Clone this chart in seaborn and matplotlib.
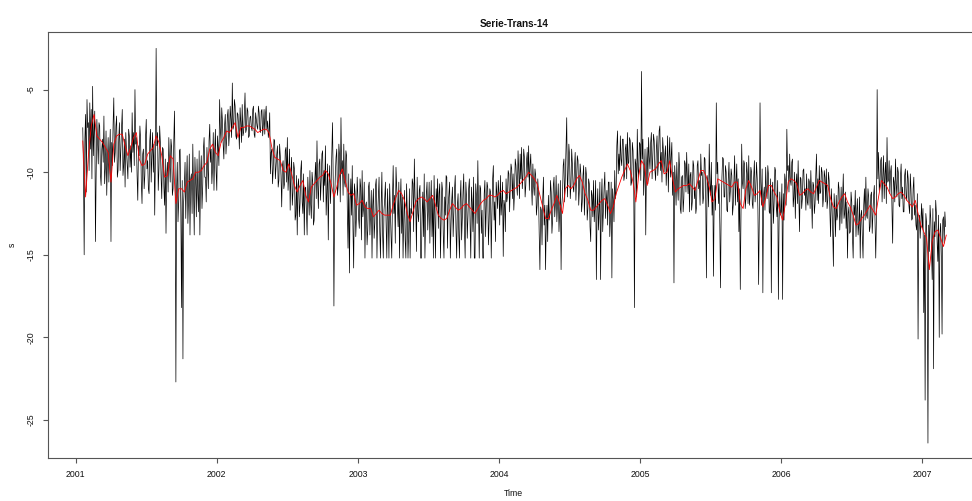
import numpy as np
import pandas as pd
import seaborn as sns
import matplotlib
matplotlib.use("Agg")
import matplotlib.pyplot as plt

# Raw series, one value every 0.01 year, grouped by calendar year
s_2001 = [
    -7.3, -15.0, -6.5, -5.6, -7.0, -5.8, -6.2, -4.8, -7.5, -14.2, -6.8,
    -9.5, -7.2, -10.8, -8.0, -6.6, -9.8, -11.4, -7.9, -8.8,
    -14.2, -9.6, -5.5,
    -8.8, -6.6, -9.9, -7.0, -8.5, -6.2, -9.6,
    -10.9, -8.7, -10.4, -7.8,
    -8.4, -6.4, -7.6, -5.0,
    -7.9, -11.7, -9.0, -8.0, -11.9, -8.6, -10.2, -6.8, -9.3, -11.3,
    -7.4, -8.9, -10.0, -12.6,
    -2.5,
    -7.6, -9.8, -8.2, -11.6, -8.6, -12.0, -13.7,
    -9.4, -7.9, -10.6, -8.5,
    -11.0, -6.3, -22.7, -9.4, -11.8, -8.6, -18.2, -21.3,
    -10.8, -12.8, -9.0, -11.6, -13.8, -10.1,
    -8.3, -13.8, -10.6, -9.2, -12.4, -13.8,
    -9.0, -10.9, -7.9, -10.3, -8.5, -11.0,
    -7.1, -8.6, -9.7, -11.1, -7.4,
]
s_2002 = [
    -11.1, -8.5, -5.6, -8.2, -6.9, -9.2, -6.5, -8.0, -6.2, -7.6,
    -6.8, -4.6, -7.2, -6.0, -8.0, -6.5, -8.6, -7.0, -5.9, -7.6,
    -5.2, -7.4, -6.3, -7.8, -6.6, -7.5, -6.0, -7.9, -6.8, -7.4,
    -6.4, -7.6, -6.2, -7.1, -7.7, -6.0, -6.9, -7.5, -10.1, -8.6,
    -9.8, -8.1, -9.6, -8.4, -10.5, -9.0, -12.1, -9.3, -10.7, -8.5,
    -7.9, -10.2, -12.3, -9.1, -11.2, -9.8, -12.6, -13.8, -10.4, -11.9,
    -9.3, -12.5, -13.8, -10.9, -13.8, -11.5, -9.9, -12.8, -10.6, -12.9,
    -9.4, -8.1, -12.2, -9.2, -10.5, -8.7, -9.9, -8.4, -11.2, -14.1,
    -9.6, -10.8, -7.0, -18.1, -10.2, -8.6, -10.9, -9.0, -6.7, -9.3,
    -8.3, -10.9, -9.0, -14.6, -16.1, -10.4, -9.6, -15.8, -11.2, -12.6,
]
s_2003 = [
    -11.5, -13.4, -10.9, -9.9, -12.2, -15.2, -11.8, -13.5, -10.6, -12.4,
    -15.2, -11.0, -13.1, -10.4, -12.7, -10.3, -15.2, -10.0, -15.2, -11.6,
    -13.2, -11.0, -15.2, -12.3, -15.2, -9.6, -11.4, -9.7, -12.0, -10.6,
    -11.9, -13.7, -15.2, -11.1, -15.2, -12.4, -13.6, -15.2, -12.5, -10.7,
    -9.2, -12.0, -10.3, -13.0, -10.8, -15.2, -11.2, -10.1, -12.7, -10.6,
    -12.2, -14.3, -10.5, -11.6, -10.2, -15.2, -12.1, -13.4, -10.7, -12.8,
    -11.1, -15.2, -12.6, -10.3, -12.0, -10.6, -13.2, -10.9, -12.4, -10.2,
    -15.2, -11.3, -15.2, -10.5, -12.8, -10.1, -15.2, -11.5, -12.7, -10.4,
    -15.2, -11.8, -10.3, -15.2, -11.4, -9.3, -15.2, -11.0, -12.3, -15.2,
    -10.5, -12.1, -10.9, -13.0, -11.2, -12.5, -9.6, -11.8, -10.6, -12.2,
]
s_2004 = [
    -11.3, -10.2, -11.8, -15.1, -12.0, -10.4, -11.5, -10.1, -11.0, -9.8,
    -10.1, -11.2, -9.6, -11.4, -9.9, -8.9, -8.5, -10.2, -9.1, -10.8,
    -8.8, -8.4, -9.6, -10.7, -9.5, -11.4, -10.2, -12.0, -11.3, -15.9,
    -12.3, -11.6, -13.2, -15.9, -12.0, -11.4, -12.6, -11.2, -12.9, -10.3,
    -11.9, -13.0, -10.7, -12.4, -15.9, -11.4, -9.2, -10.3, -6.7, -10.1,
    -9.0, -10.8, -9.5, -11.2, -8.8, -10.4, -9.3, -11.0, -10.1, -11.8,
    -9.6, -11.3, -10.2, -12.2, -10.7, -14.2, -11.4, -10.5, -12.1, -16.5,
    -11.0, -12.4, -16.5, -10.4, -12.3, -10.0, -11.7, -13.2, -10.6, -12.8,
    -16.4, -11.6, -9.9, -11.2, -7.5, -8.9, -7.8, -9.6, -8.0, -10.2,
    -8.3, -7.6, -9.4, -8.1, -10.6, -8.7, -18.2, -9.5, -7.4, -10.3,
]
s_2005 = [
    -8.3, -3.9, -8.0, -10.2, -13.8, -8.5, -7.9, -9.8, -7.6, -9.1,
    -8.1, -10.5, -7.8, -9.4, -7.2, -8.8, -7.9, -10.0, -8.4, -9.6,
    -11.2, -7.9, -9.1, -11.4, -16.7, -10.5, -9.4, -11.7, -9.8, -12.5,
    -10.2, -11.6, -9.5, -8.8, -11.3, -12.4, -10.0, -11.8, -9.6, -10.9,
    -12.1, -9.3, -10.5, -8.9, -10.0, -11.5, -9.2, -16.4, -10.6, -8.3,
    -11.4, -12.6, -16.3, -10.8, -5.8, -9.4, -10.7, -17.0, -10.3, -9.2,
    -11.5, -10.0, -12.4, -9.4, -11.1, -10.2, -12.0, -9.0, -10.6, -11.8,
    -13.6, -17.1, -8.3, -11.0, -9.5, -11.6, -10.1, -9.0, -11.3, -10.0,
    -12.2, -9.3, -11.0, -10.4, -16.8, -5.8, -12.0, -17.3, -10.9, -9.7,
    -11.6, -10.2, -12.5, -17.3, -10.6, -11.8, -9.9, -12.7, -17.7, -11.2,
]
s_2006 = [
    -12.4, -17.7, -12.9, -10.5, -7.4, -9.6, -8.9, -10.8, -9.2, -11.5,
    -12.8, -10.1, -9.3, -13.6, -10.4, -11.6, -9.8, -11.0, -10.1, -12.0,
    -10.6, -9.9, -13.4, -10.8, -11.9, -8.9, -10.4, -9.6, -11.2, -10.0,
    -11.5, -10.3, -9.8, -11.7, -10.5, -13.9, -12.0, -15.7, -12.2, -11.4,
    -12.6, -11.0, -12.3, -13.1, -10.1, -12.5, -13.4, -15.2, -12.1, -13.6,
    -11.8, -15.2, -12.6, -13.9, -11.6, -13.2, -15.2, -12.3, -15.2, -11.0,
    -10.3, -12.8, -11.5, -13.3, -11.2, -12.6, -10.8, -15.2, -5.0, -8.8,
    -10.7, -9.1, -10.2, -11.6, -9.4, -7.9, -10.5, -11.3, -9.6, -14.3,
    -10.6, -9.2, -11.5, -10.0, -12.1, -9.5, -10.9, -12.4, -9.8, -11.7,
    -10.4, -12.5, -11.1, -12.8, -10.3, -12.0, -13.5, -20.1, -12.6, -13.0,
]
s_2007 = [
    -13.4, -18.5, -23.8, -13.0, -26.4, -14.8, -12.8, -16.5, -21.9,
    -13.9, -12.5, -15.4, -20.0, -13.1, -19.8, -12.7, -12.4,
]

# Values in between, at the half steps (+0.005 year)
h_2001 = [
    -9.8, -8.0, -11.2, -7.3, -9.9, -8.6, -10.4, -9.0, -6.3, -10.1, -8.2,
    -7.0, -10.1, -8.6, -9.4, -10.7, -7.5, -9.2, -10.6, -7.4,
    -8.2, -7.1, -9.4,
    -7.2, -10.3, -8.0, -9.9, -7.3, -10.2, -8.0,
    -7.6, -9.6, -7.4, -9.7,
    -10.0, -8.8, -9.6, -8.3,
    -10.2, -8.4, -7.2, -10.6, -8.9, -11.0, -7.9, -9.8, -11.0, -8.1,
    -10.6, -7.6, -8.3, -9.1,
    -8.4,
    -11.1, -7.2, -10.3, -8.5, -10.9, -9.2, -10.1,
    -11.2, -9.5, -8.0, -11.4,
    -8.2, -10.4, -11.0, -13.0, -8.7, -12.2, -10.5, -11.8,
    -9.4, -10.6, -13.1, -8.9, -10.4, -12.5,
    -11.1, -9.1, -12.7, -11.3, -8.7, -10.1,
    -12.2, -8.6, -10.3, -11.8, -9.7, -8.1,
    -9.4, -10.7, -7.6, -8.8, -9.9,
]
h_2002 = [
    -7.8, -9.6, -7.4, -6.1, -8.3, -7.2, -8.9, -6.6, -8.4, -6.0,
    -7.9, -7.4, -5.6, -7.8, -6.4, -7.3, -6.1, -8.2, -7.8, -6.5,
    -7.6, -6.1, -7.9, -6.7, -7.3, -6.2, -7.7, -6.4, -7.2, -6.0,
    -7.4, -6.3, -7.8, -6.2, -6.5, -7.4, -7.9, -6.4, -8.8, -10.7,
    -8.0, -10.4, -8.9, -10.9, -8.3, -10.2, -9.6, -11.0, -8.7, -10.6,
    -11.1, -8.6, -10.0, -12.0, -9.4, -12.9, -10.2, -10.8, -12.7, -9.9,
    -11.8, -10.1, -11.0, -12.4, -10.3, -12.6, -11.9, -10.0, -13.2, -10.4,
    -11.6, -10.8, -9.5, -11.7, -8.9, -11.8, -10.8, -12.6, -9.5, -10.7,
    -11.9, -9.0, -10.4, -11.7, -9.1, -11.4, -8.3, -11.8, -10.1, -11.4,
    -10.6, -8.7, -12.3, -10.1, -11.7, -12.6, -13.4, -10.7, -13.9, -10.3,
]
h_2003 = [
    -12.8, -10.4, -14.1, -12.7, -10.6, -12.0, -14.4, -10.9, -13.8, -11.1,
    -12.0, -14.0, -10.8, -15.2, -11.4, -13.6, -11.9, -13.7, -12.3, -10.6,
    -15.2, -12.6, -10.7, -13.9, -11.6, -12.5, -14.3, -10.9, -13.3, -15.2,
    -10.4, -11.5, -12.8, -14.1, -10.7, -15.2, -11.0, -12.2, -10.4, -13.6,
    -11.5, -14.8, -12.5, -11.1, -15.2, -12.6, -13.9, -15.2, -11.3, -13.5,
    -10.6, -12.0, -13.9, -15.2, -12.9, -11.0, -10.4, -11.3, -15.2, -10.6,
    -13.8, -11.5, -10.2, -14.6, -11.3, -15.2, -11.7, -13.9, -11.0, -13.4,
    -12.0, -13.8, -11.6, -14.1, -11.2, -13.4, -10.6, -14.0, -11.0, -13.1,
    -10.9, -13.6, -15.2, -10.7, -13.1, -12.4, -10.8, -13.7, -15.2, -11.3,
    -13.9, -10.6, -14.4, -11.0, -15.2, -10.4, -12.9, -14.2, -11.3, -10.5,
]
h_2004 = [
    -13.2, -12.6, -10.6, -11.7, -13.6, -11.8, -9.9, -12.4, -9.5, -11.6,
    -12.3, -9.2, -10.8, -8.7, -11.6, -10.4, -11.0, -8.6, -11.5, -9.3,
    -10.3, -11.1, -8.9, -12.0, -10.8, -9.8, -12.6, -10.4, -13.8, -12.1,
    -14.4, -10.3, -12.0, -13.0, -14.2, -12.9, -10.5, -13.7, -10.8, -12.7,
    -10.2, -11.8, -13.6, -10.5, -12.0, -9.6, -11.8, -8.4, -11.5, -8.3,
    -11.6, -8.6, -10.9, -9.7, -11.7, -9.0, -12.0, -9.5, -12.4, -10.2,
    -12.6, -9.7, -12.9, -10.4, -13.3, -11.1, -12.7, -13.0, -10.5, -12.3,
    -13.5, -10.6, -11.8, -13.6, -10.9, -12.8, -11.1, -10.6, -13.9, -10.6,
    -11.0, -13.0, -11.6, -8.4, -10.1, -9.9, -9.2, -8.0, -10.5, -8.6,
    -10.4, -9.5, -7.9, -10.8, -8.2, -10.9, -9.2, -11.5, -9.8, -8.2,
]
h_2005 = [
    -10.5, -9.2, -11.4, -8.6, -9.8, -10.7, -9.1, -8.2, -10.4, -7.7,
    -9.9, -8.6, -10.2, -7.5, -9.9, -10.6, -8.7, -9.0, -10.8, -7.8,
    -9.2, -10.3, -8.2, -10.0, -9.6, -12.0, -10.8, -8.8, -12.2, -10.3,
    -12.4, -9.3, -11.2, -10.4, -9.5, -10.2, -12.3, -9.3, -11.6, -12.5,
    -9.6, -11.0, -12.0, -10.2, -11.9, -9.1, -11.6, -10.2, -12.1, -10.7,
    -9.4, -10.8, -11.6, -12.3, -10.1, -11.9, -13.2, -12.0, -9.1, -11.5,
    -9.6, -12.3, -10.4, -11.8, -9.8, -12.6, -10.4, -12.0, -9.5, -10.4,
    -11.0, -12.4, -10.6, -9.3, -12.2, -9.4, -11.9, -12.0, -9.7, -11.9,
    -10.3, -11.8, -9.4, -12.3, -12.5, -10.6, -9.8, -11.4, -12.3, -11.1,
    -9.6, -12.4, -10.4, -11.2, -13.1, -9.7, -12.1, -10.5, -13.0, -12.6,
]
h_2006 = [
    -10.7, -11.3, -10.1, -12.0, -9.9, -11.2, -10.5, -9.4, -12.1, -10.0,
    -10.7, -11.9, -11.4, -10.3, -12.2, -9.9, -11.4, -12.3, -11.8, -10.4,
    -12.2, -11.5, -10.6, -12.5, -10.2, -11.7, -11.9, -11.3, -9.7, -12.1,
    -9.9, -11.8, -12.2, -10.0, -12.4, -11.0, -13.6, -11.3, -13.9, -12.9,
    -10.6, -13.5, -10.9, -11.7, -12.8, -11.2, -11.8, -12.5, -13.7, -11.2,
    -13.9, -12.0, -11.1, -12.4, -13.8, -11.5, -12.6, -13.9, -12.0, -12.9,
    -12.6, -11.0, -13.6, -11.4, -13.7, -11.4, -12.9, -12.7, -10.4, -11.1,
    -9.3, -11.8, -9.0, -10.1, -11.9, -10.6, -9.3, -10.0, -12.2, -10.3,
    -11.8, -10.7, -9.7, -12.0, -10.3, -11.6, -12.4, -10.2, -11.4, -9.9,
    -12.0, -10.1, -12.9, -11.0, -12.6, -13.2, -11.3, -12.9, -14.0, -11.9,
]
h_2007 = [
    -12.2, -13.8, -12.5, -15.6, -13.2, -12.0, -14.6, -12.2, -13.0,
    -11.7, -14.2, -12.6, -13.7, -15.1, -12.9, -14.3, -13.3,
]

# Smoothed series, one value every 0.02 year
r_2001 = [
    -8.1, -11.5, -9.0, -7.2, -6.5, -7.8, -8.0, -8.2, -8.5, -8.8,
    -10.6, -8.3, -7.8, -7.7, -7.7, -8.4, -9.0, -8.5, -7.9, -7.6,
    -9.2, -9.6, -9.5, -8.9, -8.7, -8.5, -7.8, -8.2, -9.0, -10.3,
    -10.2, -9.0, -9.2, -11.9, -11.0, -11.0, -11.2, -10.6, -10.5, -10.4,
    -10.0, -10.0, -9.9, -9.6, -9.4, -8.6, -8.3, -8.8,
]
r_2002 = [
    -9.0, -8.2, -7.9, -7.5, -7.6, -7.3, -7.0, -7.9, -7.3, -7.3,
    -7.2, -7.2, -7.3, -7.4, -7.6, -7.5, -7.4, -7.4, -7.6, -8.5,
    -9.1, -9.2, -9.3, -9.9, -10.0, -9.5, -10.1, -10.8, -11.2, -10.8,
    -10.5, -11.4, -11.8, -10.9, -10.7, -10.5, -10.3, -10.2, -9.9, -10.1,
    -10.7, -11.5, -10.9, -10.2, -9.8, -10.5, -11.2, -11.4, -11.3, -12.0,
]
r_2003 = [
    -11.9, -11.7, -12.1, -12.2, -12.2, -12.7, -12.5, -12.3, -12.5, -12.6,
    -12.6, -12.6, -12.0, -11.5, -11.1, -11.3, -11.7, -12.5, -13.0, -12.4,
    -11.8, -11.6, -11.5, -11.6, -11.8, -11.6, -11.4, -12.0, -12.6, -12.8,
    -12.9, -12.8, -12.3, -11.9, -12.1, -12.3, -12.2, -12.0, -11.9, -12.1,
    -12.3, -12.5, -12.2, -11.9, -11.7, -11.6, -11.4, -11.4, -11.5, -11.4,
]
r_2004 = [
    -11.2, -11.1, -11.3, -11.2, -11.1, -11.0, -10.9, -10.7, -10.5, -10.3,
    -10.0, -10.2, -10.4, -10.7, -11.4, -12.1, -12.8, -12.8, -12.3, -11.9,
    -11.4, -11.9, -12.5, -11.0, -10.8, -11.0, -10.8, -10.4, -10.2, -10.6,
    -11.3, -11.7, -12.3, -12.3, -12.1, -11.9, -11.7, -11.6, -12.0, -12.5,
    -12.1, -11.3, -10.8, -10.3, -9.9, -9.5, -9.9, -10.6, -11.8, -10.2,
]
r_2005 = [
    -9.3, -9.6, -10.8, -10.0, -9.9, -9.8, -9.5, -9.3, -10.1, -10.0,
    -9.3, -10.4, -11.2, -11.0, -10.9, -10.8, -10.8, -10.7, -10.9, -11.1,
    -10.5, -9.9, -9.9, -10.3, -10.9, -11.8, -11.6, -10.4, -10.5, -10.6,
    -10.7, -10.8, -10.9, -10.6, -10.6, -11.9, -12.2, -11.0, -10.5, -10.9,
    -11.4, -11.3, -11.1, -12.1, -11.6, -10.8, -10.8, -11.2, -11.5, -12.4,
]
r_2006 = [
    -12.9, -11.9, -10.6, -10.4, -10.5, -10.7, -11.4, -11.3, -11.1, -11.0,
    -11.2, -11.3, -10.9, -10.5, -10.6, -10.7, -10.8, -11.6, -12.1, -12.2,
    -11.8, -11.5, -11.3, -11.8, -12.1, -12.6, -13.2, -13.1, -12.8, -12.6,
    -12.3, -12.0, -12.3, -12.6, -11.5, -10.5, -10.7, -10.9, -11.3, -11.6,
    -11.5, -11.3, -11.2, -11.4, -11.7, -11.9, -12.1, -11.7, -12.5, -13.2,
]
r_2007 = [-13.6, -14.0, -15.9, -14.2, -13.6, -13.5, -14.0, -14.5, -13.8]

year_ticks = [2001, 2002, 2003, 2004, 2005, 2006, 2007]
y_ticks = [-25, -20, -15, -10, -5]


def by_year(blocks, step):
    """Stack (year, first offset, values) blocks into a Time/s frame."""
    frames = []
    for year, first, vals in blocks:
        t = year + first + step * np.arange(len(vals))
        frames.append(pd.DataFrame({"Time": t, "s": vals}))
    return pd.concat(frames, ignore_index=True)


raw = pd.concat([
    by_year([(2001, 0.05, s_2001), (2002, 0.0, s_2002), (2003, 0.0, s_2003),
             (2004, 0.0, s_2004), (2005, 0.0, s_2005), (2006, 0.0, s_2006),
             (2007, 0.0, s_2007)], 0.01),
    by_year([(2001, 0.055, h_2001), (2002, 0.005, h_2002), (2003, 0.005, h_2003),
             (2004, 0.005, h_2004), (2005, 0.005, h_2005), (2006, 0.005, h_2006),
             (2007, 0.005, h_2007)], 0.01),
]).sort_values("Time", ignore_index=True)

smooth = by_year([
    (2001, 0.05, r_2001), (2002, 0.01, r_2002), (2003, 0.01, r_2003),
    (2004, 0.01, r_2004), (2005, 0.01, r_2005), (2006, 0.01, r_2006),
    (2007, 0.01, r_2007),
], 0.02)

sns.set_theme(style="white")
plt.rcParams["font.family"] = ["Liberation Sans", "DejaVu Sans"]
plt.rcParams["axes.unicode_minus"] = False

W, H = 972, 501
fig = plt.figure(figsize=(W / 100, H / 100), dpi=100)
left, right, top, bottom = 47.7, 980.0, 32.3, 458.3
ax = fig.add_axes([left / W, 1 - bottom / H, (right - left) / W, (bottom - top) / H])

sns.lineplot(data=raw, x="Time", y="s", ax=ax, color="black",
             linewidth=0.5, estimator=None, sort=False)
sns.lineplot(data=smooth, x="Time", y="s", ax=ax, color="red",
             linewidth=0.6, estimator=None, sort=False)

# axis ranges: 2001 at x=75.7px, 141.1 px per year
px_per_year = 141.1
ax.set_xlim(2001 - (75.7 - left) / px_per_year, 2001 + (right - 75.7) / px_per_year)
ax.set_ylim(-27.32, -1.53)

ax.set_xticks(year_ticks)
ax.set_xticklabels([str(y) for y in year_ticks])
ax.set_yticks(y_ticks)
ax.set_yticklabels([str(v) for v in y_ticks], rotation=90, va="center")

frame_col = "#555555"
for sp in ax.spines.values():
    sp.set_visible(True)
    sp.set_color(frame_col)
    sp.set_linewidth(0.8)
ax.tick_params(axis="both", which="major", bottom=True, left=True,
               direction="out", length=3.6, width=0.8, color=frame_col,
               labelsize=6.3, labelcolor="#111111", pad=5)

ax.set_xlabel("Time", fontsize=6.3, color="#111111")
ax.xaxis.set_label_coords(0.5, (bottom - 493) / (bottom - top))
ax.xaxis.label.set_va("center")
ax.set_ylabel("s", fontsize=6.3, color="#111111")
ax.yaxis.set_label_coords((12 - left) / (right - left), 0.5)
ax.yaxis.label.set_va("center")

ax.set_title("Serie-Trans-14", fontsize=7.2, fontweight="bold", color="#111111")
ax.title.set_position((0.5, (bottom - 13) / (bottom - top)))
ax.title.set_va("center")

fig.savefig("out.png", dpi=100)
